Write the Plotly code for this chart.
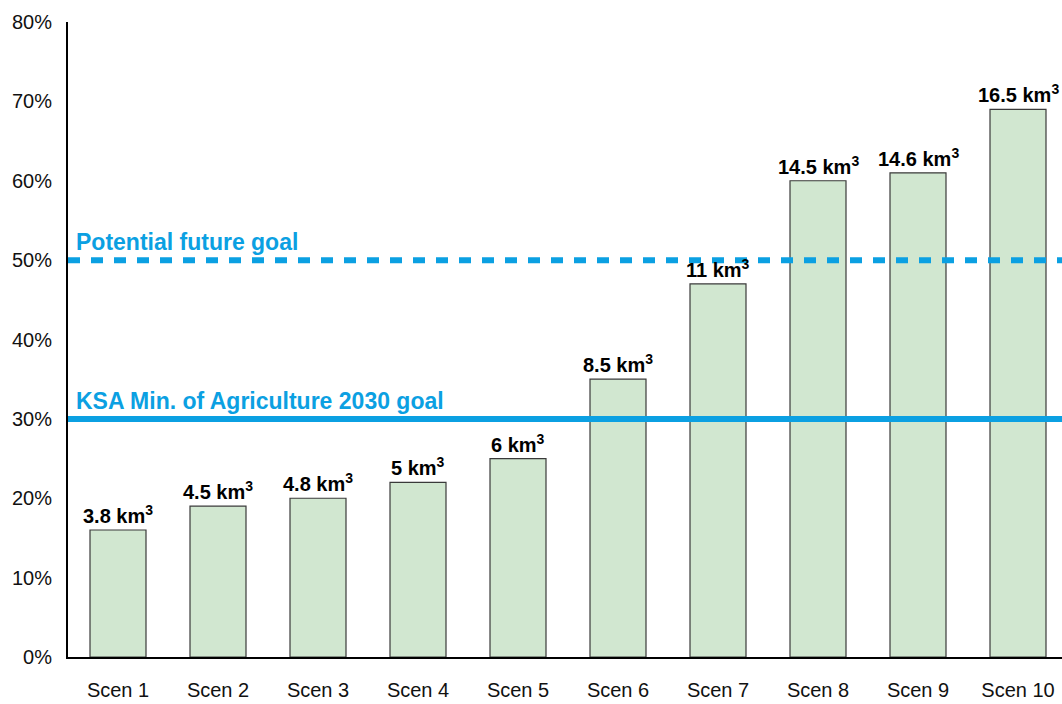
import plotly.graph_objects as go

# Scenario shares (% of target) and the water volume each one represents
scenarios = ["Scen 1", "Scen 2", "Scen 3", "Scen 4", "Scen 5",
             "Scen 6", "Scen 7", "Scen 8", "Scen 9", "Scen 10"]
share_pct = [16, 19, 20, 22, 25, 35, 47, 60, 61, 69]
volume_km3 = ["3.8", "4.5", "4.8", "5", "6", "8.5", "11", "14.5", "14.6", "16.5"]

# Reference goals
future_goal = 50
ministry_goal = 30
goal_labels = ["Potential future goal", "KSA Min. of Agriculture 2030 goal"]

y_ticks = list(range(0, 81, 10))
y_tick_text = [f"{v}%" for v in y_ticks]

BLUE = "#0ba0e2"
FONT = "Liberation Sans, Arial, Helvetica, sans-serif"

fig = go.Figure()

fig.add_trace(go.Bar(
    x=list(range(len(scenarios))),
    y=share_pct,
    width=0.56,
    marker=dict(color="#d1e7d0", line=dict(color="#3a3a3a", width=1.2)),
    hoverinfo="skip",
    showlegend=False,
))

x0, x1 = -0.5, 9.44

# Goal lines
fig.add_shape(type="line", xref="x", yref="y", x0=x0, x1=x1,
              y0=future_goal, y1=future_goal,
              line=dict(color=BLUE, width=6, dash="12px,11px"), layer="above")
fig.add_shape(type="line", xref="x", yref="y", x0=x0, x1=x1,
              y0=ministry_goal, y1=ministry_goal,
              line=dict(color=BLUE, width=6), layer="above")

annotations = []
for i, (v, lab) in enumerate(zip(share_pct, volume_km3)):
    annotations.append(dict(
        x=i, y=v, xref="x", yref="y",
        text=f"<b>{lab} km<sup>3</sup></b>",
        showarrow=False, yanchor="bottom", yshift=1,
        font=dict(family=FONT, size=20, color="#000000"),
    ))

for goal, lab in zip([future_goal, ministry_goal], goal_labels):
    annotations.append(dict(
        x=x0, y=goal, xref="x", yref="y",
        text=f"<b>{lab}</b>",
        showarrow=False, xanchor="left", yanchor="bottom",
        xshift=6, yshift=3,
        font=dict(family=FONT, size=23, color=BLUE),
    ))

fig.update_layout(
    width=1062, height=704,
    margin=dict(l=68, r=0, t=22, b=47),
    paper_bgcolor="white", plot_bgcolor="white",
    font=dict(family=FONT, size=20, color="#111111"),
    annotations=annotations,
    xaxis=dict(
        range=[x0, x1],
        tickmode="array",
        tickvals=list(range(len(scenarios))),
        ticktext=scenarios,
        showgrid=False, zeroline=False,
        showline=True, linecolor="black", linewidth=2,
        ticks="", ticklabelstandoff=14,
        tickfont=dict(family=FONT, size=20, color="#111111"),
    ),
    yaxis=dict(
        range=[0, 80],
        tickmode="array",
        tickvals=y_ticks,
        ticktext=y_tick_text,
        showgrid=False, zeroline=False,
        showline=True, linecolor="black", linewidth=2,
        ticks="", ticklabelstandoff=10,
        tickfont=dict(family=FONT, size=20, color="#111111"),
    ),
)

fig.write_html("out.html")
